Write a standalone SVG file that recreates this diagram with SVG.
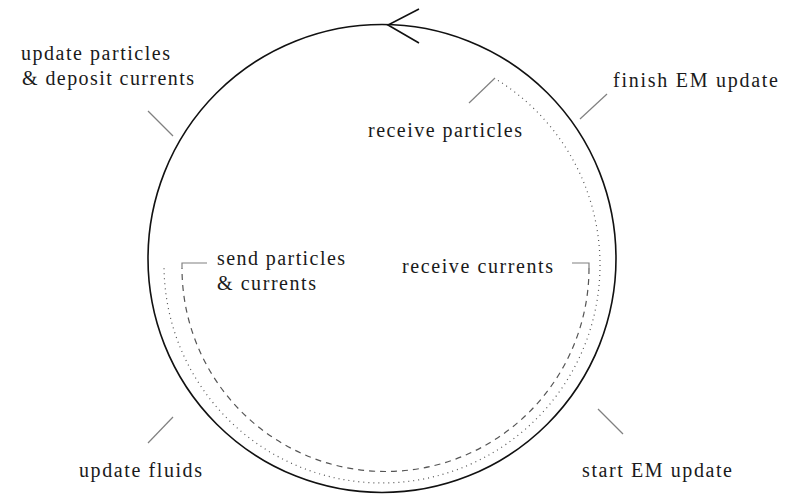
<svg xmlns="http://www.w3.org/2000/svg" width="794" height="495" viewBox="0 0 794 495">
<style>
text{font-family:"Liberation Serif","Times New Roman",serif;font-size:20px;fill:#1a1a1a}
.tick{stroke:#808080;stroke-width:1.2;fill:none}
.main{stroke:#111;stroke-width:1.6;fill:none}
.dot{stroke:#555;stroke-width:1.2;fill:none;stroke-dasharray:1 4}
.dash{stroke:#555;stroke-width:1.2;fill:none;stroke-dasharray:6 5}
</style>
<rect width="794" height="495" fill="#fff"/>
<g id="connectors">
<circle class="main" cx="382" cy="258.5" r="234"/>
<polyline class="main" points="419,9 388,25 419,43"/>
<path class="dot" d="M498 80.4 A218 218 0 1 1 164 265"/>
<path class="dash" d="M589 268 A203.5 203.5 0 0 1 182 268"/>
<path class="tick" d="M148 111 L173 136"/>
<path class="tick" d="M607 94 L580 119"/>
<path class="tick" d="M469 103 L495 78"/>
<path class="tick" d="M173 417 L148 443"/>
<path class="tick" d="M598 409 L623 434"/>
<path class="tick" d="M572 263 H589 V268"/>
<path class="tick" d="M207 263 H182 V268"/>
</g>
<g id="update-particles"><text x="21" y="60" textLength="149">update particles</text><text x="22" y="85" textLength="172">&amp; deposit currents</text></g>
<g id="finish-em"><text x="613" y="87" textLength="165">finish EM update</text></g>
<g id="receive-particles"><text x="368" y="137" textLength="154">receive particles</text></g>
<g id="send-particles"><text x="217" y="265" textLength="128">send particles</text><text x="217" y="290" textLength="99">&amp; currents</text></g>
<g id="receive-currents"><text x="402" y="273" textLength="151">receive currents</text></g>
<g id="update-fluids"><text x="79" y="477" textLength="123">update fluids</text></g>
<g id="start-em"><text x="582" y="477" textLength="150">start EM update</text></g>
</svg>
